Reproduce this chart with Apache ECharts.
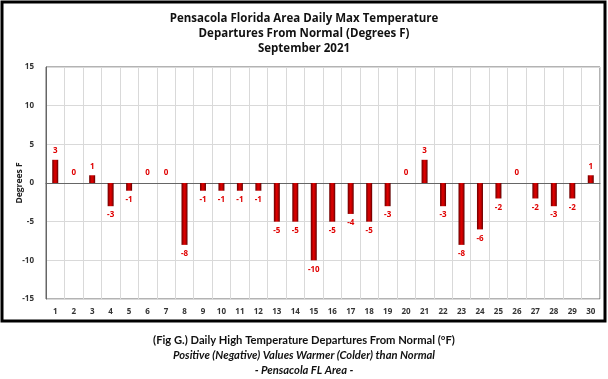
<!DOCTYPE html>
<html><head><meta charset="utf-8">
<script src="https://cdn.jsdelivr.net/npm/echarts@6/dist/echarts.min.js"></script>
<style>html,body{margin:0;padding:0;background:#fff}#c{width:608px;height:379px}</style>
</head><body><div id="c"></div>
<script>
const days = ['1','2','3','4','5','6','7','8','9','10','11','12','13','14','15','16','17','18','19','20','21','22','23','24','25','26','27','28','29','30'];
const departures = [3,0,1,-3,-1,0,0,-8,-1,-1,-1,-1,-5,-5,-10,-5,-4,-5,-3,0,3,-3,-8,-6,-2,0,-2,-3,-2,1];
const titleLines = ['Pensacola Florida Area Daily Max Temperature','Departures From Normal (Degrees F)','September 2021'];
const captionLines = ['(Fig G.) Daily High Temperature Departures From Normal (°F)','Positive (Negative) Values Warmer (Colder) than Normal','- Pensacola FL Area -'];

const chart = echarts.init(document.getElementById('c'), null, {renderer:'canvas'});
const font = 'Open Sans, Noto Sans, sans-serif';
const capFont = 'Lato, Open Sans, sans-serif';
const barGrad = new echarts.graphic.LinearGradient(0,0,1,0,[
  {offset:0,color:'#6a0000'},{offset:0.45,color:'#e00000'},{offset:0.7,color:'#c00000'},{offset:1,color:'#5a0000'}]);
chart.setOption({
  animation:false,
  backgroundColor:'#fff',
  title: titleLines.map((t,i)=>({text:t,left:'center',top:8+i*15,textStyle:{fontFamily:font,fontSize:11.5,fontWeight:'bold',color:'#111'}}))
    .concat(captionLines.map((t,i)=>({text:t,left:'center',top:330+i*15,textStyle:{fontFamily:capFont,fontSize:11.2,fontWeight:'bold',fontStyle:i===0?'normal':'italic',color:'#111'}}))),
  graphic:[{type:'rect',shape:{x:2,y:2,width:603,height:319},style:{fill:'none',stroke:'#000',lineWidth:3},silent:true}],
  grid:{left:46,right:8,top:67,bottom:80,show:true,borderColor:'#666',borderWidth:1},
  xAxis:[{type:'category',data:days,axisLine:{show:true,lineStyle:{color:'#666'}},axisTick:{show:false},
    splitLine:{show:true,lineStyle:{color:'#d9d9d9',width:1}},
    axisLabel:{fontFamily:font,fontSize:8,fontWeight:'bold',color:'#333',margin:9,interval:0}},
    {type:'value',min:0,max:days.length,interval:1,position:'bottom',show:true,
     axisLine:{show:false},axisTick:{show:false},axisLabel:{show:false},
     splitLine:{show:true,lineStyle:{color:'#d9d9d9',width:1}}}],
  yAxis:{type:'value',min:-15,max:15,interval:5,name:'Degrees F',nameLocation:'middle',nameGap:22,nameMoveOverlap:false,
    nameTextStyle:{fontFamily:font,fontSize:8.5,fontWeight:'bold',color:'#222'},
    axisLine:{show:true,lineStyle:{color:'#666'}},axisTick:{show:false},
    splitLine:{lineStyle:{color:'#d9d9d9'}},
    axisLabel:{fontFamily:font,fontSize:8,fontWeight:'bold',color:'#333',margin:12}},
  series:[{type:'bar',barWidth:6,xAxisIndex:0,
    data:departures.map(v=>({value:v,label:{position:v<0?'bottom':'top',distance:v===0?6:5}})),
    itemStyle:{color:barGrad},
    label:{show:true,fontFamily:font,fontSize:8,fontWeight:'bold',color:'#e00000'}}]
});
</script></body></html>
